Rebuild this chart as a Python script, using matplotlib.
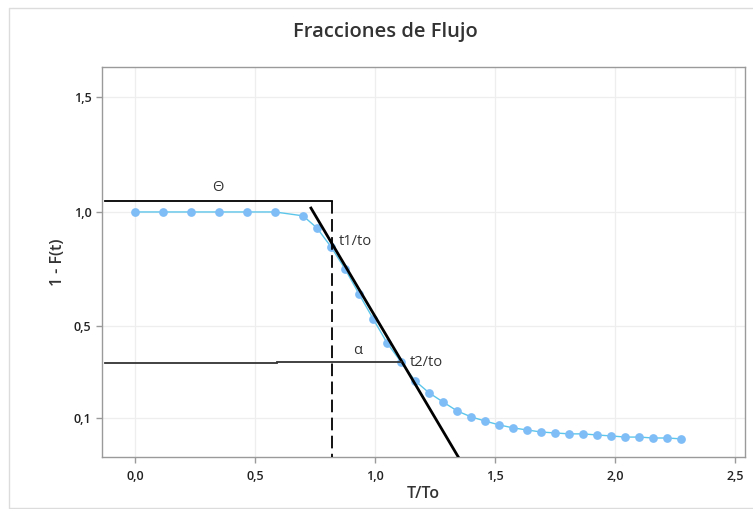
import matplotlib
matplotlib.use("Agg")
import matplotlib.pyplot as plt
from matplotlib.lines import Line2D

plt.rcParams['font.family'] = ['Open Sans', 'DejaVu Sans']

# Data
x_vals = [0.0, 0.117, 0.233, 0.35, 0.467, 0.583, 0.70,
          0.758, 0.817, 0.875, 0.933, 0.992, 1.05, 1.108, 1.167, 1.225,
          1.283, 1.342, 1.40, 1.458, 1.517, 1.575, 1.633, 1.692, 1.75,
          1.808, 1.867, 1.925, 1.983, 2.042, 2.10, 2.158, 2.217, 2.275]
y_vals = [1.0, 1.0, 1.0, 1.0, 1.0, 1.0, 0.983,
          0.93, 0.847, 0.751, 0.642, 0.533, 0.428, 0.345, 0.262, 0.21,
          0.17, 0.131, 0.105, 0.087, 0.070, 0.057, 0.048, 0.039, 0.035,
          0.031, 0.031, 0.026, 0.022, 0.017, 0.017, 0.013, 0.013, 0.009]

x_ticks = [0.0, 0.5, 1.0, 1.5, 2.0, 2.5]
x_ticklabels = ["0,0", "0,5", "1,0", "1,5", "2,0", "2,5"]
y_ticks = [0.1, 0.5, 1.0, 1.5]
y_ticklabels = ["0,1", "0,5", "1,0", "1,5"]

# Annotation geometry (data coords)
theta_y = 1.048
theta_x0, theta_x1 = -0.125, 0.82
tangent_x = [0.733, 1.352]
tangent_y = [1.017, -0.08]
alpha_left = ([-0.125, 0.59], [0.342, 0.342])
alpha_right = ([0.59, 1.108], [0.346, 0.346])

W, H = 753, 509
fig = plt.figure(figsize=(W / 100, H / 100), dpi=100)
fig.patch.set_facecolor('white')
# screenshot frame (left, top, bottom edges)
frame_x = [1.2, 8.5 / W, 8.5 / W, 1.2]
frame_y = [1 - 7.5 / H, 1 - 7.5 / H, 1.5 / H, 1.5 / H]
fig.add_artist(Line2D(frame_x, frame_y, transform=fig.transFigure,
                      color='#dcdcdc', linewidth=1.0))

ax = fig.add_axes([102 / W, 52 / H, 643 / W, 390 / H])
ax.set_xlim(-0.137, 2.54)
ax.set_ylim(-0.070, 1.633)

ax.grid(True, color='#eeeeee', linewidth=0.9)
ax.set_axisbelow(True)
for s in ax.spines.values():
    s.set_color('#9a9a9a')
    s.set_linewidth(1.0)

ax.plot(x_vals, y_vals, color='#5cc6ea', linewidth=1.0, zorder=3)
ax.plot(x_vals, y_vals, linestyle='none', marker='o', markersize=6.3,
        color='#7fbdf7', markeredgewidth=0, zorder=4)

# Theta bracket
ax.plot([theta_x0, theta_x1], [theta_y, theta_y], color='black', linewidth=1.3, zorder=5)
ax.plot([theta_x1, theta_x1], [theta_y, -0.1], color='black', linewidth=1.3,
        dashes=(7, 3), zorder=5)
# tangent line
ax.plot(tangent_x, tangent_y, color='black', linewidth=2.0, zorder=5)
# alpha line
ax.plot(*alpha_left, color='#333333', linewidth=1.3, zorder=5)
ax.plot(*alpha_right, color='#333333', linewidth=1.3, zorder=5)

ax.text(0.346, 1.105, "Θ", ha='center', va='center', fontsize=10.5, color='#333333')
ax.text(0.929, 0.397, "α", ha='center', va='center', fontsize=10.5, color='#333333')
ax.text(0.85, 0.873, "t1/to", ha='left', va='center', fontsize=10.5, color='#333333')
ax.text(1.146, 0.343, "t2/to", ha='left', va='center', fontsize=10.5, color='#333333')

ax.set_xticks(x_ticks)
ax.set_xticklabels(x_ticklabels)
ax.set_yticks(y_ticks)
ax.set_yticklabels(y_ticklabels)
ax.tick_params(axis='both', colors='#9a9a9a', labelcolor='#222222', labelsize=9,
               length=4, width=1)
ax.tick_params(axis='x', pad=5)
for lab in ax.get_xticklabels() + ax.get_yticklabels():
    lab.set_fontweight('semibold')

ax.set_xlabel("T/To", fontsize=11.5, color='#333333', fontweight='semibold')
ax.xaxis.set_label_coords(0.5, -(494 - 457) / 390, transform=ax.transAxes)
ax.xaxis.label.set_va('center')
ax.set_ylabel("1 - F(t)", fontsize=11.5, color='#333333', labelpad=6, fontweight='semibold')

fig.text(385 / W, 1 - 32 / H, "Fracciones de Flujo", ha='center', va='center',
         fontsize=14.5, color='#333333', fontweight='semibold')

fig.savefig("out.png", dpi=100)
